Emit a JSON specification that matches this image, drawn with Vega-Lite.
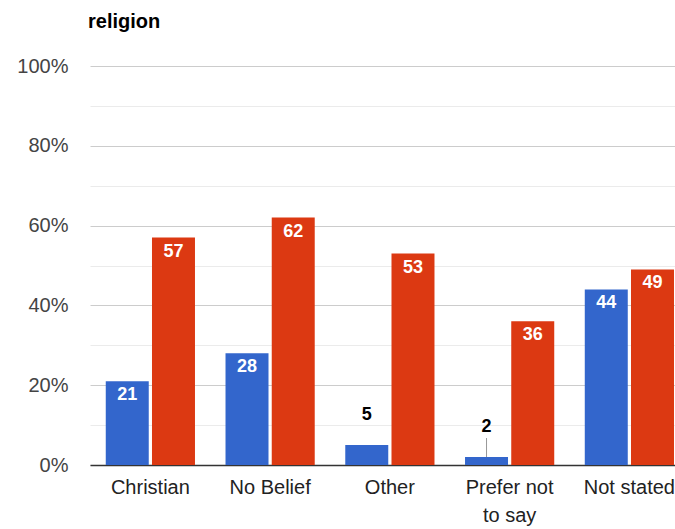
{
  "$schema": "https://vega.github.io/schema/vega-lite/v6.json",
  "width": 585,
  "height": 399,
  "autosize": {"type": "none"},
  "padding": {"left": 90, "top": 66, "right": 0, "bottom": 64},
  "background": "white",
  "config": {"view": {"stroke": null}, "font": "Arial, Liberation Sans"},
  "title": {"text": "religion", "anchor": "start", "frame": "group", "fontSize": 20, "fontWeight": "bold", "color": "#000", "offset": 24, "dx": -2, "font": "Arial, Liberation Sans"},
  "data": {"values": [
    {"category": "Christian", "series": "Group 1", "value": 21},
    {"category": "Christian", "series": "Group 2", "value": 57},
    {"category": "No Belief", "series": "Group 1", "value": 28},
    {"category": "No Belief", "series": "Group 2", "value": 62},
    {"category": "Other", "series": "Group 1", "value": 5},
    {"category": "Other", "series": "Group 2", "value": 53},
    {"category": "Prefer not to say", "series": "Group 1", "value": 2},
    {"category": "Prefer not to say", "series": "Group 2", "value": 36},
    {"category": "Not stated", "series": "Group 1", "value": 44},
    {"category": "Not stated", "series": "Group 2", "value": 49}
  ]},
  "encoding": {
    "x": {"field": "category", "type": "nominal", "sort": null, "title": null,
      "scale": {"paddingInner": 0.255, "paddingOuter": 0.07, "align": 0.94},
      "axis": {"labelAngle": 0, "ticks": false, "domainColor": "#333", "domainWidth": 1.5, "labelColor": "#222", "labelFontSize": 20, "labelPadding": 12, "labelLineHeight": 28,
        "labelFont": "Arial, Liberation Sans",
        "labelExpr": "datum.label == 'Prefer not to say' ? ['Prefer not', 'to say'] : datum.label"}},
    "xOffset": {"field": "series", "type": "nominal", "scale": {"paddingInner": 0.07}},
    "y": {"field": "value", "type": "quantitative", "title": null,
      "scale": {"domain": [0, 100], "nice": false},
      "axis": {"values": [0, 10, 20, 30, 40, 50, 60, 70, 80, 90, 100], "ticks": false, "domain": false, "labelPadding": 22, "labelFontSize": 20, "labelColor": "#444",
        "labelFont": "Arial, Liberation Sans",
        "labelExpr": "datum.value % 20 === 0 ? datum.value + '%' : ''",
        "gridColor": {"condition": {"test": "datum.value % 20 === 0", "value": "#cccccc"}, "value": "#ebebeb"}}}
  },
  "layer": [
    {"mark": {"type": "bar"},
     "encoding": {"color": {"field": "series", "type": "nominal", "legend": null, "scale": {"range": ["#3366cc", "#dc3912"]}}}},
    {"transform": [{"filter": "datum.value >= 10"}],
     "mark": {"type": "text", "color": "white", "fontWeight": "bold", "fontSize": 18, "baseline": "top", "dy": 5, "font": "Arial, Liberation Sans"},
     "encoding": {"text": {"field": "value", "type": "quantitative"}}},
    {"transform": [{"filter": "datum.value < 10"}],
     "mark": {"type": "text", "color": "#000", "fontWeight": "bold", "fontSize": 18, "baseline": "middle", "dy": -30, "font": "Arial, Liberation Sans"},
     "encoding": {"text": {"field": "value", "type": "quantitative"}}},
    {"transform": [{"filter": "datum.value < 3"}],
     "mark": {"type": "rule", "color": "#999", "strokeWidth": 1, "y2Offset": -19},
     "encoding": {"y2": {"field": "value"}}}
  ]
}
